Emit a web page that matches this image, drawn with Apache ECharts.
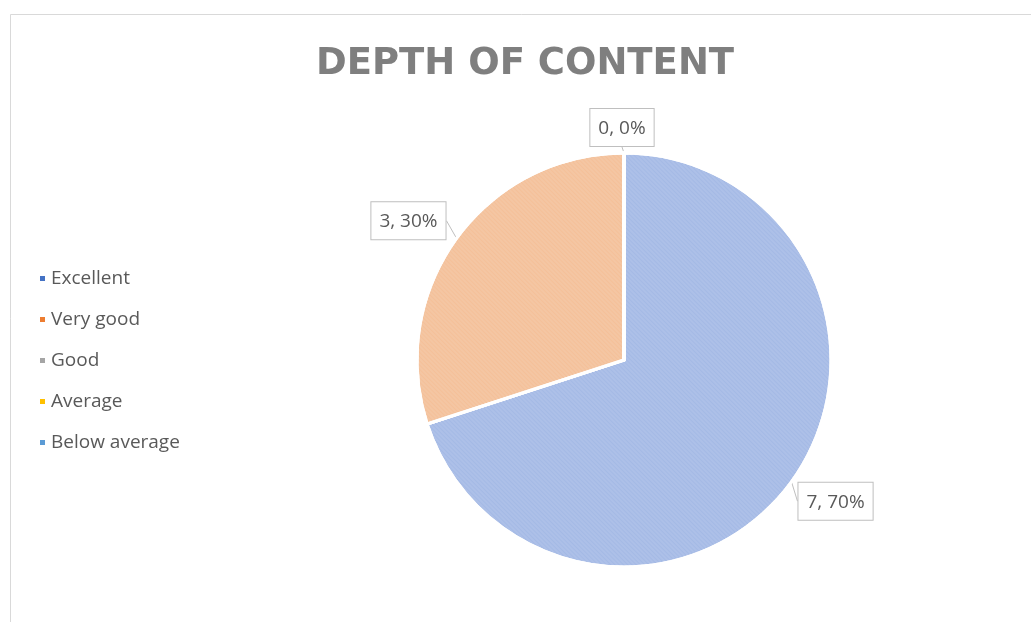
<!DOCTYPE html>
<html>
<head>
<meta charset="utf-8">
<script src="https://cdn.jsdelivr.net/npm/echarts@6/dist/echarts.min.js"></script>
<style>
  html, body { margin: 0; padding: 0; background: #fff; }
  #main { width: 1031px; height: 622px; }
</style>
</head>
<body>
<div id="main"></div>
<script>
var chartDom = document.getElementById('main');
var myChart = echarts.init(chartDom);
var option;

// data
let categories = ['Excellent', 'Very good', 'Good', 'Average', 'Below average'];
let counts = [7, 3, 0, 0, 0];
let showLabel = [true, true, true, false, false];

// office palette + lighter "pattern" fills
let baseColors = ['#4472C4', '#ED7D31', '#A5A5A5', '#FFC000', '#5B9BD5'];
let fillColors = ['#adc0e8', '#f4c6a3', '#d2d2d2', '#ffe08a', '#b5cfea'];

let pieCenter = [624, 360];

let pieData = categories.map(function (name, i) {
  return {
    name: name,
    value: counts[i],
    itemStyle: {
      color: fillColors[i],
      decal: {
        symbol: 'rect',
        symbolSize: 0.5,
        dashArrayX: [1, 0],
        dashArrayY: [1, 2],
        rotation: Math.PI / 4,
        color: echarts.color.modifyAlpha(baseColors[i], 0.35)
      }
    },
    label: { show: showLabel[i] },
    labelLine: { show: showLabel[i] }
  };
});

let legendData = categories.map(function (name, i) {
  return { name: name, itemStyle: { color: baseColors[i] } };
});

option = {
  backgroundColor: '#fff',
  aria: { enabled: true, decal: { show: true } },
  graphic: [{
    type: 'rect',
    shape: { x: 10.5, y: 14.5, width: 1040, height: 640 },
    style: { fill: 'none', stroke: '#d9d9d9', lineWidth: 1 },
    silent: true
  }],
  title: {
    text: 'DEPTH OF CONTENT',
    left: 311,
    top: 41,
    textStyle: {
      fontFamily: 'DejaVu Sans',
      fontSize: 37,
      fontWeight: 'bold',
      color: '#7f7f7f'
    }
  },
  legend: {
    orient: 'vertical',
    left: 33,
    top: 264,
    icon: 'rect',
    itemWidth: 7,
    itemHeight: 7,
    itemGap: 22,
    data: legendData,
    textStyle: {
      fontFamily: 'Open Sans',
      fontSize: 19,
      lineHeight: 19,
      color: '#595959'
    }
  },
  series: [{
    type: 'pie',
    center: pieCenter,
    radius: 207,
    startAngle: 90,
    clockwise: true,
    stillShowZeroSum: true,
    avoidLabelOverlap: false,
    data: pieData,
    itemStyle: { borderColor: '#fff', borderWidth: 3 },
    label: {
      position: 'outside',
      formatter: '{c}, {d}%',
      fontFamily: 'Open Sans',
      fontSize: 19,
      color: '#595959',
      backgroundColor: '#fff',
      borderColor: '#bfbfbf',
      borderWidth: 1,
      padding: [10, 8, 8, 8]
    },
    labelLine: {
      length: 6,
      length2: 0,
      lineStyle: { color: '#bfbfbf' }
    },
    // callout boxes sit just off the slice edge, like the office data callouts
    labelLayout: function (params) {
      var p = params.labelLinePoints && params.labelLinePoints[0];
      if (!p) return;
      var dx = p[0] - pieCenter[0];
      if (Math.abs(dx) < 5) {
        return { x: p[0] - 2, y: p[1] - 7, align: 'center', verticalAlign: 'bottom' };
      }
      if (dx > 0) {
        return { x: p[0] + 7, y: p[1] + 1, align: 'left', verticalAlign: 'top' };
      }
      return { x: p[0] - 11, y: p[1] + 1, align: 'right', verticalAlign: 'bottom' };
    },
    emphasis: { disabled: true }
  }]
};

option && myChart.setOption(option);
</script>
</body>
</html>
